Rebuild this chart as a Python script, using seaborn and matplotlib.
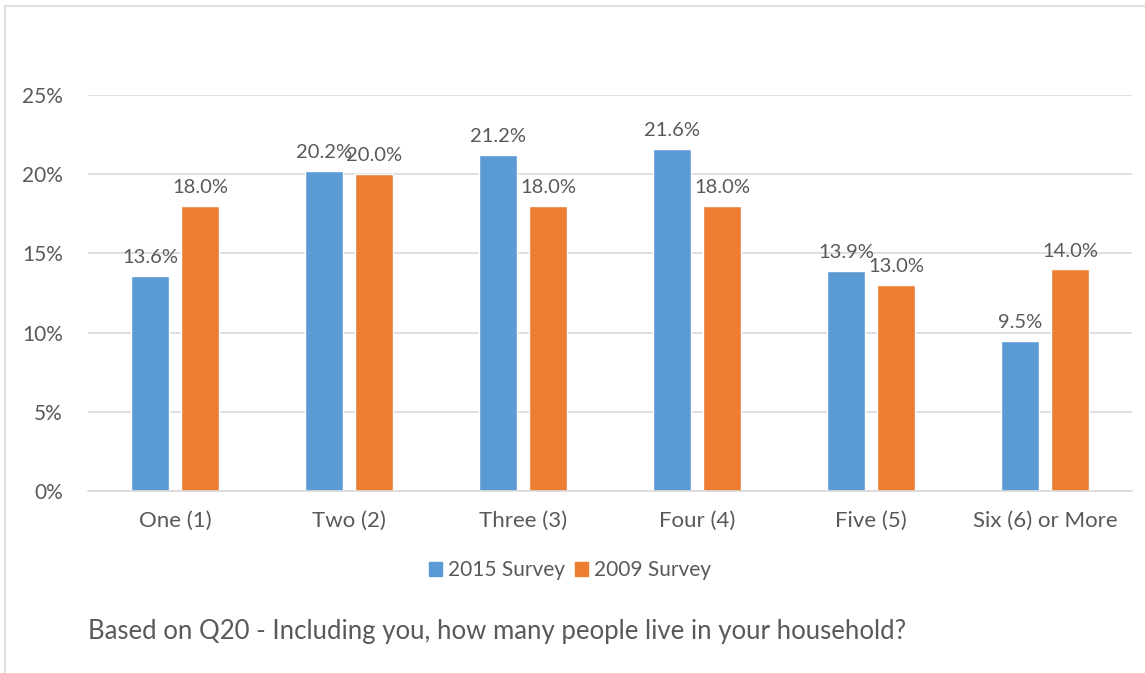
import matplotlib
matplotlib.use("Agg")
import matplotlib.pyplot as plt
import seaborn as sns
import pandas as pd
from matplotlib.patches import Rectangle

categories = ["One (1)", "Two (2)", "Three (3)", "Four (4)", "Five (5)", "Six (6) or More"]
survey_2015 = [13.6, 20.2, 21.2, 21.6, 13.9, 9.5]
survey_2009 = [18.0, 20.0, 18.0, 18.0, 13.0, 14.0]
series = ["2015 Survey", "2009 Survey"]
colors = ["#5B9BD5", "#ED7D31"]
yticks = [0, 5, 10, 15, 20, 25]

df = pd.DataFrame({
    "cat": categories * 2,
    "val": survey_2015 + survey_2009,
    "series": [series[0]] * 6 + [series[1]] * 6,
})

sns.set_style("white")
plt.rcParams["font.family"] = ["Lato", "DejaVu Sans"]
txt = "#595959"

fig = plt.figure(figsize=(11.45, 6.73), dpi=100)
ax = fig.add_axes([88 / 1145, 1 - 491 / 673, (1132 - 88) / 1145, (491 - 95) / 673])

sns.barplot(data=df, x="cat", y="val", hue="series", palette=colors,
            width=0.575, gap=0.24, ax=ax, legend=False, saturation=1)

for cont in ax.containers:
    ax.bar_label(cont, labels=[f"{v:.1f}%" for v in cont.datavalues],
                 padding=7, fontsize=14.5, color=txt)

ax.set_ylim(0, 25)
ax.set_xlim(-0.5, 5.5)
ax.set_yticks(yticks)
ax.set_yticklabels([f"{t}%" for t in yticks])
ax.yaxis.grid(True, color="#D9D9D9", linewidth=1.2)
ax.set_axisbelow(True)
for s in ["top", "right", "left"]:
    ax.spines[s].set_visible(False)
ax.spines["bottom"].set_color("#D9D9D9")
ax.spines["bottom"].set_linewidth(1.2)
ax.tick_params(axis="both", length=0, colors=txt)
ax.tick_params(axis="x", pad=14, labelsize=16)
ax.tick_params(axis="y", pad=18, labelsize=15)
ax.set_xlabel("")
ax.set_ylabel("")

handles = [Rectangle((0, 0), 1, 1, color=c) for c in colors]
fig.legend(handles, series, loc="center", bbox_to_anchor=(570 / 1145, 1 - 570 / 673),
           ncol=2, frameon=False, fontsize=15, labelcolor=txt,
           handlelength=0.65, handleheight=0.65, handletextpad=0.3, columnspacing=0.45)

fig.text(88 / 1145, 1 - 632 / 673,
         "Based on Q20 - Including you, how many people live in your household?",
         fontsize=18.5, color=txt, va="center", ha="left")

fig.patches.append(Rectangle((5 / 1145, -0.1), 1.2, 1 - 6 / 673 + 0.1,
                             transform=fig.transFigure, fill=False,
                             edgecolor="#D9D9D9", linewidth=1.2))

fig.savefig("out.png", dpi=100)
